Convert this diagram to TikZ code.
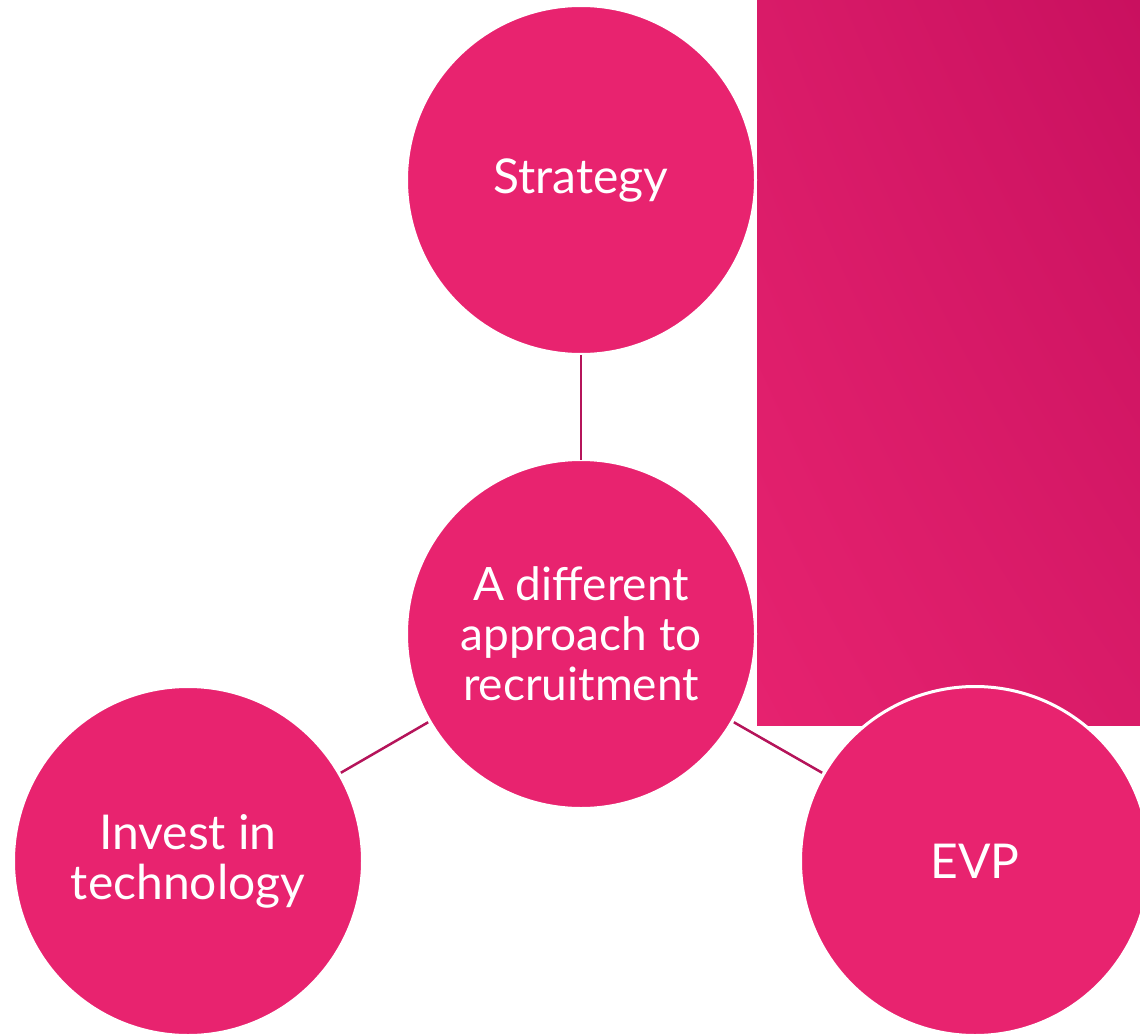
\documentclass[tikz,border=0pt]{standalone}
\usepackage{fontspec}
\setmainfont{Lato}
\usetikzlibrary{shadings,calc}
\definecolor{circfill}{HTML}{E8236F}
\definecolor{linkcol}{HTML}{B5145A}
\definecolor{rectA}{HTML}{E6226F}
\definecolor{rectB}{HTML}{C9105F}
\definecolor{rectM}{HTML}{D91B68}
\begin{document}
\begin{tikzpicture}[x=1pt,y=-1pt,
  bubble/.style={circle, fill=circfill, draw=white, line width=3pt, minimum size=349pt, inner sep=0pt, text=white, align=center, font=\fontsize{48}{50}\selectfont},
  link/.style={draw=linkcol, line width=2.5pt}]
\useasboundingbox (0,0) rectangle (1140,1035);
\begin{scope}
\clip (0,0) rectangle (1140,1035);
\shade[lower left=rectA, upper right=rectB, upper left=rectM, lower right=rectM] (757,0) rectangle (1140,725);
\node[bubble] (strategy) at (581,180) {Strategy};
\node[bubble, font=\fontsize{46}{50}\selectfont] (center) at (581,634) {A different\\approach to\\recruitment};
\node[bubble] (tech) at (188,861) {Invest in\\technology};
\node[bubble] (evp) at (975,861) {EVP};
\end{scope}
\draw[link] ([yshift=1pt]strategy.south) -- ([yshift=-2pt]center.north);
\path (center.210) coordinate (cl) (tech.30) coordinate (tl);
\path (center.330) coordinate (cr) (evp.150) coordinate (er);
\draw[link] ($(cl)!0.005!(tl)$) -- ($(tl)!0.005!(cl)$);
\draw[link] ($(cr)!0.005!(er)$) -- ($(er)!0.005!(cr)$);
\end{tikzpicture}
\end{document}
